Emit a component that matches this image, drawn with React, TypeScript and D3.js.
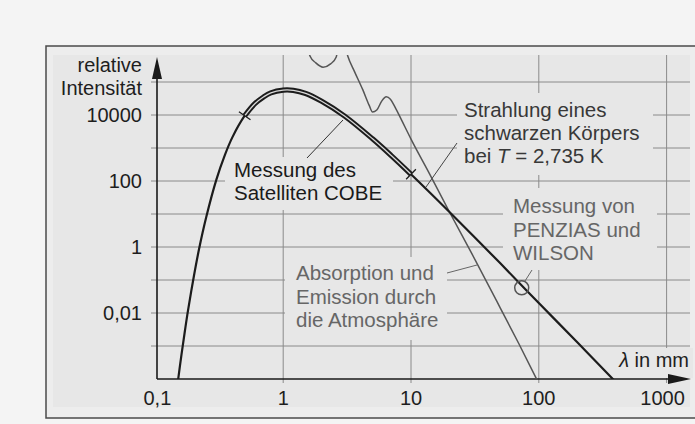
import React from "react";
import * as d3 from "d3";

// ---- data ----
const planckLambda = [0.15, 0.16, 0.17, 0.18, 0.2, 0.22, 0.25, 0.3, 0.35, 0.4, 0.5, 0.6, 0.7, 0.8, 1, 1.2, 1.5, 2, 3, 5, 7, 10, 20, 50, 100, 200, 400];
const planckIntensity = [8.5e-5, 5.5e-4, 2.8e-3, 0.012, 0.13, 0.9, 8.1, 110, 620, 2100, 9500, 22000, 35000, 47000, 57000, 56000, 45000, 26000, 9500, 1900, 590, 160, 11.5, 0.32, 0.02, 1.3e-3, 8.1e-5];
const cobeRange = [0.5, 10];

const atmLambda = [1.5, 1.62, 1.8, 2.05, 2.35, 2.6, 2.75, 2.95, 3.2, 3.6, 4.2, 4.7, 5.0, 5.4, 5.9, 6.4, 6.9, 7.5, 8.5, 10, 14, 20, 30, 50, 70, 96];
const atmLogIntensity = [6.4, 5.79, 5.58, 5.45, 5.55, 5.76, 6.2, 6.3, 5.79, 5.33, 4.76, 4.3, 4.09, 4.15, 4.42, 4.55, 4.48, 4.24, 3.82, 3.27, 2.21, 1.06, -0.21, -1.85, -2.94, -4.0];

const penziasLambda = [73.5];
const penziasIntensity = [0.058];

const yTickValues = [1e4, 100, 1, 0.01];
const yTickLabels = ["10000", "100", "1", "0,01"];
const xTickValues = [0.1, 1, 10, 100, 1000];
const xTickLabels = ["0,1", "1", "10", "100", "1000"];
const yGridValues = [1e-3, 1e-2, 1e-1, 1, 10, 100, 1e3, 1e4, 1e5];
const xGridValues = [1, 10, 100, 1000];

const labelCobe = ["Messung des", "Satelliten COBE"];
const labelPenzias = ["Messung von", "PENZIAS und", "WILSON"];
const labelAtm = ["Absorption und", "Emission durch", "die Atmosphäre"];

export default function App() {
  const x = d3.scaleLog().domain([0.1, 1000]).range([155.4, 666.6]);
  const y = d3.scaleLog().domain([1e-4, 1e5]).range([379, 82]);

  const font = "'Liberation Sans', Arial, Helvetica, sans-serif";
  const innerFill = "#e7e7e7";
  const gridColor = "#8a8a8a";

  const planck = planckLambda.map((l, i) => [l, planckIntensity[i]] as [number, number]);
  const cobe = planck.filter((d) => d[0] >= cobeRange[0] && d[0] <= cobeRange[1]);
  const atm = atmLambda.map((l, i) => [l, Math.pow(10, atmLogIntensity[i])] as [number, number]);

  const line = d3
    .line<[number, number]>()
    .x((d) => x(d[0]))
    .y((d) => y(d[1]))
    .curve(d3.curveCatmullRom.alpha(0.5));
  const atmLine = d3
    .line<[number, number]>()
    .x((d) => x(d[0]))
    .y((d) => y(d[1]))
    .curve(d3.curveMonotoneX);

  // tick marks at COBE ends, perpendicular to curve
  const interp = (l: number) => {
    const ll = Math.log10(l);
    for (let i = 0; i < planck.length - 1; i++) {
      const a = Math.log10(planck[i][0]);
      const b = Math.log10(planck[i + 1][0]);
      if (ll >= a && ll <= b) {
        const t = (ll - a) / (b - a);
        const la = Math.log10(planck[i][1]);
        const lb = Math.log10(planck[i + 1][1]);
        return Math.pow(10, la + t * (lb - la));
      }
    }
    return 1;
  };
  const endTicks = cobeRange.map((l) => {
    const px = x(l);
    const py = y(interp(l));
    const px2 = x(l * 1.15);
    const py2 = y(interp(l * 1.15));
    const px1 = x(l / 1.15);
    const py1 = y(interp(l / 1.15));
    let dx = px2 - px1;
    let dy = py2 - py1;
    const len = Math.hypot(dx, dy);
    dx /= len;
    dy /= len;
    const h = 7;
    return { x1: px - dy * h, y1: py + dx * h, x2: px + dy * h, y2: py - dx * h };
  });

  // areas where grid lines are interrupted (behind texts)
  const gaps = [
    { x: 225, y: 157, w: 168, h: 53 },
    { x: 457, y: 93, w: 196, h: 82 },
    { x: 503, y: 188, w: 154, h: 82 },
    { x: 285, y: 257, w: 162, h: 83 },
    { x: 605, y: 348, w: 88, h: 30 },
  ];

  const left = 157;
  const right = 690;
  const bottom = y(1e-4);

  return (
    <svg
      width={695}
      height={424}
      style={{ position: "absolute", left: 0, top: 0, fontFamily: font }}
    >
      <defs>
        <clipPath id="plotClip">
          <rect x={left} y={55} width={right - left} height={bottom - 55} />
        </clipPath>
      </defs>
      <rect x={0} y={0} width={695} height={424} fill="#f4f4f4" />
      <rect x={46} y={46} width={700} height={372} fill="#ededed" stroke="#4a4a4a" strokeWidth={1.5} />
      <rect x={53} y={55} width={right - 53} height={352} fill={innerFill} />

      {/* grid */}
      {yGridValues.map((v) => (
        <line key={"gy" + v} x1={151} x2={right} y1={y(v)} y2={y(v)} stroke={gridColor} strokeWidth={1} />
      ))}
      {xGridValues.map((v) => (
        <line key={"gx" + v} x1={x(v)} x2={x(v)} y1={55} y2={bottom + 4} stroke={gridColor} strokeWidth={1} />
      ))}
      {gaps.map((g, i) => (
        <rect key={"gap" + i} x={g.x} y={g.y} width={g.w} height={g.h} fill={innerFill} />
      ))}

      {/* axes */}
      <line x1={left} x2={left} y1={bottom} y2={72} stroke="#1a1a1a" strokeWidth={1.6} />
      <path d={`M${left},57 L${left - 5},79 L${left + 5},79 Z`} fill="#1a1a1a" />
      <line x1={left} x2={672} y1={bottom} y2={bottom} stroke="#1a1a1a" strokeWidth={1.6} />
      <path d={`M691,${bottom} L668,${bottom - 5} L668,${bottom + 5} Z`} fill="#1a1a1a" />

      {/* curves */}
      <g clipPath="url(#plotClip)">
        <path d={atmLine(atm) || ""} fill="none" stroke="#555" strokeWidth={1.5} />
        <path d={line(planck) || ""} fill="none" stroke="#1c1c1c" strokeWidth={2.2} />
        <path d={line(cobe) || ""} fill="none" stroke="#1c1c1c" strokeWidth={5.2} />
        <path d={line(cobe) || ""} fill="none" stroke="#d8d8d8" strokeWidth={1.3} />
      </g>
      {endTicks.map((t, i) => (
        <line key={"et" + i} x1={t.x1} y1={t.y1} x2={t.x2} y2={t.y2} stroke="#1c1c1c" strokeWidth={1.3} />
      ))}
      {penziasLambda.map((l, i) => (
        <circle key={"pz" + i} cx={x(l)} cy={y(penziasIntensity[i])} r={7} fill="none" stroke="#555" strokeWidth={1.5} />
      ))}

      {/* leader lines */}
      <line x1={307} y1={158} x2={343} y2={120} stroke="#333" strokeWidth={1} />
      <line x1={426} y1={187} x2={457} y2={143} stroke="#444" strokeWidth={1} />
      <line x1={525} y1={281} x2={532} y2={270} stroke="#666" strokeWidth={1} />
      <line x1={447} y1={273} x2={477} y2={265} stroke="#666" strokeWidth={1} />

      {/* axis labels */}
      <g fontSize={20} fill="#1e1e1e">
        <text x={142} y={72} textAnchor="end">relative</text>
        <text x={142} y={95} textAnchor="end">Intensität</text>
        {yTickValues.map((v, i) => (
          <text key={"yt" + v} x={142} y={y(v) + 7} textAnchor="end">{yTickLabels[i]}</text>
        ))}
        {xTickValues.map((v, i) => (
          <text key={"xt" + v} x={i === xTickValues.length - 1 ? x(v) - 4 : x(v) + (i === 0 ? 2 : 0)} y={405} textAnchor="middle">
            {xTickLabels[i]}
          </text>
        ))}
        <text x={689} y={367} textAnchor="end">
          <tspan fontStyle="italic">λ</tspan> in mm
        </text>
      </g>

      {/* annotations */}
      <g fontSize={20.5}>
        {labelCobe.map((s, i) => (
          <text key={"c" + i} x={234} y={177 + i * 23} fill="#1a1a1a">{s}</text>
        ))}
        <text x={464} y={117} fill="#383838">Strahlung eines</text>
        <text x={464} y={140} fill="#383838">schwarzen Körpers</text>
        <text x={464} y={163} fill="#383838">
          bei <tspan fontStyle="italic">T</tspan> = 2,735 K
        </text>
        {labelPenzias.map((s, i) => (
          <text key={"p" + i} x={513} y={213 + i * 23.5} fill="#666">{s}</text>
        ))}
        {labelAtm.map((s, i) => (
          <text key={"a" + i} x={296} y={280 + i * 23.5} fill="#666">{s}</text>
        ))}
      </g>
    </svg>
  );
}
